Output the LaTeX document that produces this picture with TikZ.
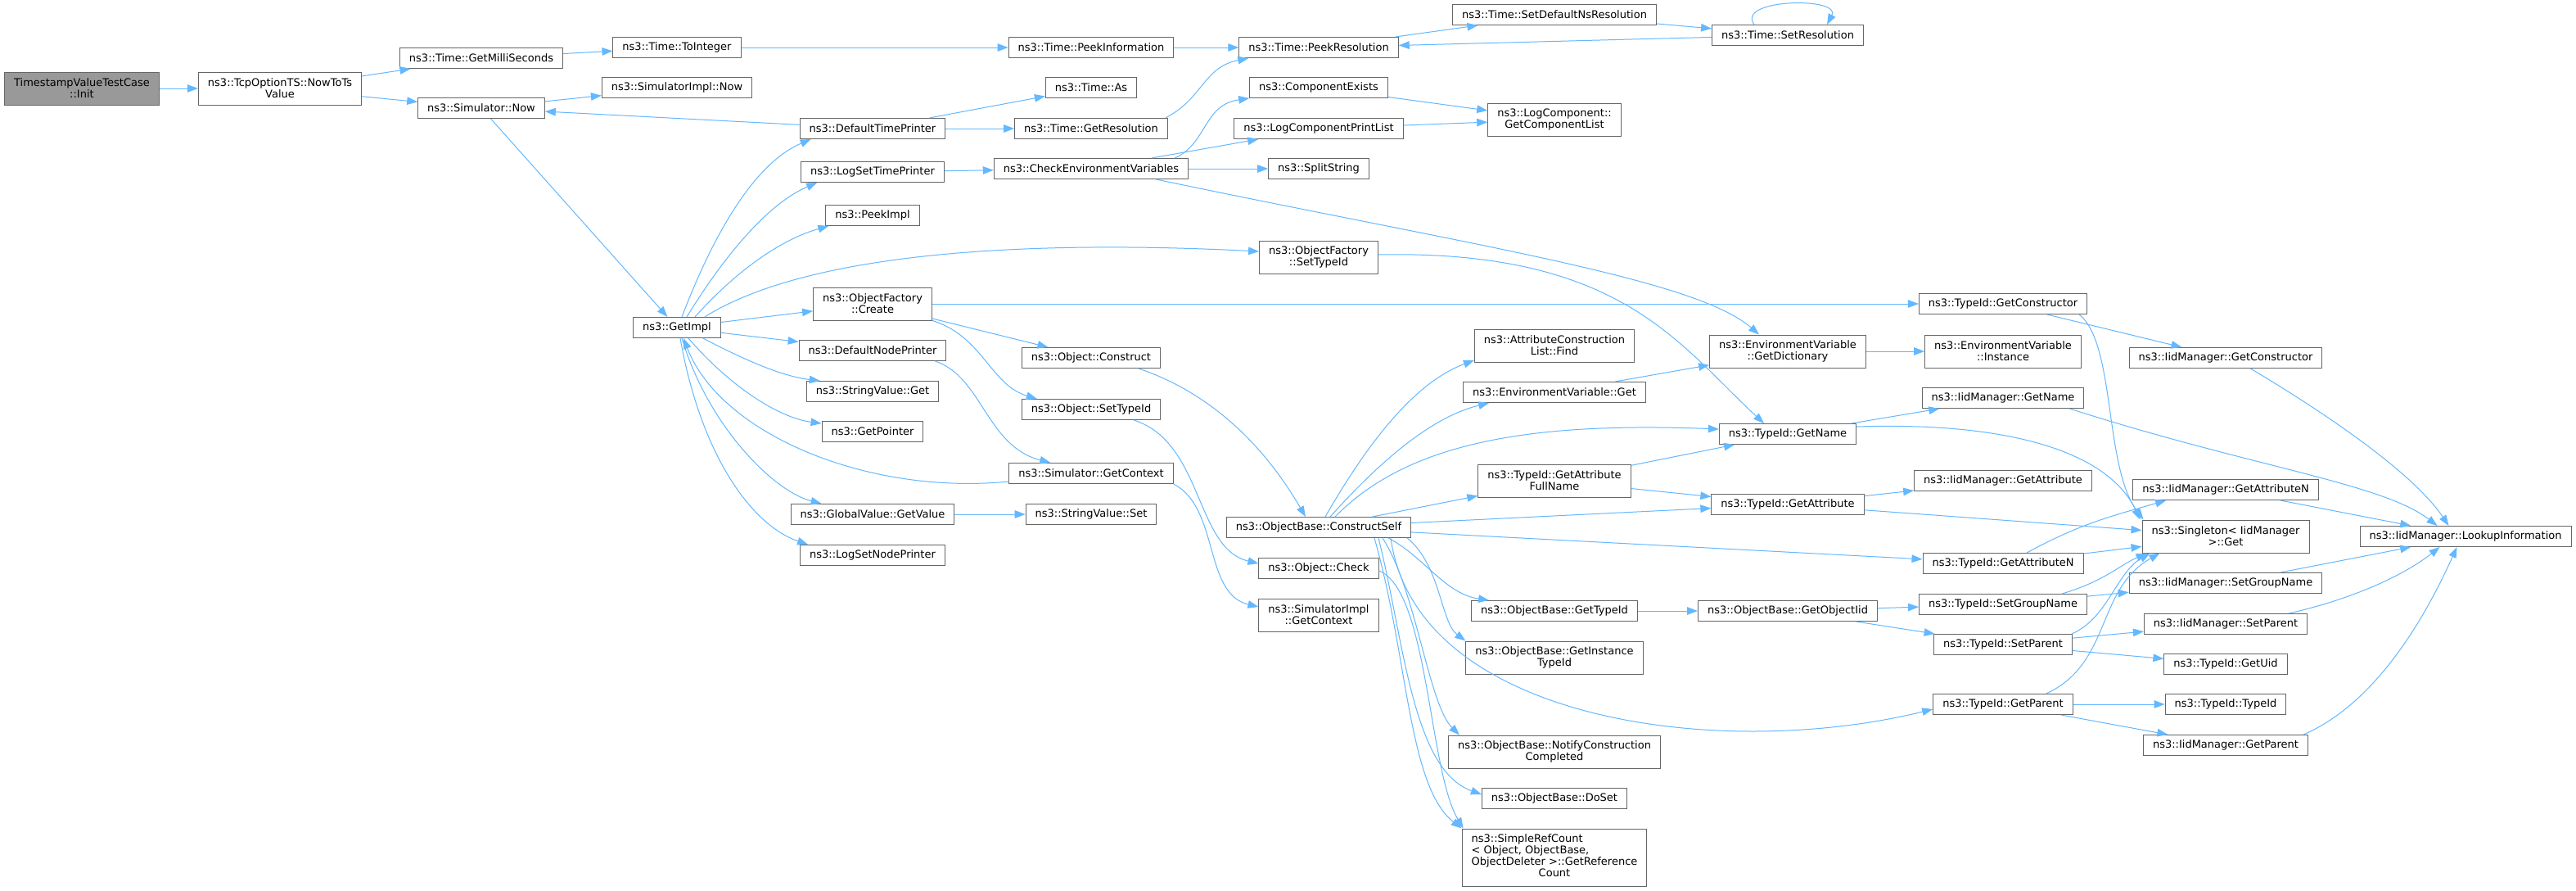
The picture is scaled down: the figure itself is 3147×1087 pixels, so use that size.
\documentclass[tikz,border=0pt]{standalone}
\usepackage{fontspec}
\setmainfont{DejaVu Sans}
\usetikzlibrary{arrows.meta}
\definecolor{edgeblue}{HTML}{63B8FF}
\definecolor{boxgray}{HTML}{666666}
\definecolor{rootgray}{HTML}{999999}

\begin{document}
\begin{tikzpicture}
  [x=1pt,y=-1pt,>={Triangle[length=13pt,width=9.5pt]},
   every node/.style={draw=boxgray,line width=1pt,fill=white,inner xsep=11.5pt,inner ysep=2pt,
     minimum height=25pt,align=center,font=\fontsize{13}{14}\selectfont},
   two/.style={minimum height=40pt},
   edge/.style={->,draw=edgeblue,line width=1pt}]
  \path[use as bounding box,fill=white] (0,0) rectangle (3147,1087);
  \node[two,fill=rootgray] (ninit) at (100,108) {TimestampValueTestCase\\::Init};
  \node[two] (nnowts) at (342,108) {ns3::TcpOptionTS::NowToTs\\Value};
  \node (ngetms) at (588,71) {ns3::Time::GetMilliSeconds};
  \node (nsimnow) at (588,132) {ns3::Simulator::Now};
  \node (ntoint) at (827,58) {ns3::Time::ToInteger};
  \node (nimplnow) at (827,107) {ns3::SimulatorImpl::Now};
  \node (ngetimpl) at (827,400) {ns3::GetImpl};
  \node (ndtp) at (1066,157) {ns3::DefaultTimePrinter};
  \node (nlstp) at (1066,210) {ns3::LogSetTimePrinter};
  \node (npeekimpl) at (1066,263) {ns3::PeekImpl};
  \node[two] (nofcreate) at (1066,371) {ns3::ObjectFactory\\::Create};
  \node (ndnp) at (1066,428) {ns3::DefaultNodePrinter};
  \node (nsvget) at (1066,478) {ns3::StringValue::Get};
  \node (ngetptr) at (1066,527) {ns3::GetPointer};
  \node (ngvget) at (1066,628) {ns3::GlobalValue::GetValue};
  \node (nlsnp) at (1066,678) {ns3::LogSetNodePrinter};
  \node (npeekinfo) at (1333,58) {ns3::Time::PeekInformation};
  \node (ntimeas) at (1333,107) {ns3::Time::As};
  \node (ngetres) at (1333,157) {ns3::Time::GetResolution};
  \node (ncheckenv) at (1333,206) {ns3::CheckEnvironmentVariables};
  \node (nobjcons) at (1333,437) {ns3::Object::Construct};
  \node (nobjstid) at (1333,500) {ns3::Object::SetTypeId};
  \node (nsimctx) at (1333,578) {ns3::Simulator::GetContext};
  \node (nsvset) at (1333,628) {ns3::StringValue::Set};
  \node (npeekres) at (1611,58) {ns3::Time::PeekResolution};
  \node (ncompex) at (1611,107) {ns3::ComponentExists};
  \node (nlcprint) at (1611,157) {ns3::LogComponentPrintList};
  \node (nsplit) at (1611,206) {ns3::SplitString};
  \node[two] (nofset) at (1611,314) {ns3::ObjectFactory\\::SetTypeId};
  \node (ncself) at (1611,644) {ns3::ObjectBase::ConstructSelf};
  \node (nobjcheck) at (1611,694) {ns3::Object::Check};
  \node[two] (nimplctx) at (1611,751) {ns3::SimulatorImpl\\::GetContext};
  \node (nsetdef) at (1899,18) {ns3::Time::SetDefaultNsResolution};
  \node[two] (ncomplist) at (1899,146) {ns3::LogComponent::\\GetComponentList};
  \node[two] (nacfind) at (1899,422) {ns3::AttributeConstruction\\List::Find};
  \node (nenvget) at (1899,479) {ns3::EnvironmentVariable::Get};
  \node[two] (nattrfull) at (1899,587) {ns3::TypeId::GetAttribute\\FullName};
  \node (nobtid) at (1899,746) {ns3::ObjectBase::GetTypeId};
  \node[two] (ninst) at (1899,803) {ns3::ObjectBase::GetInstance\\TypeId};
  \node[two] (nnotify) at (1899,918) {ns3::ObjectBase::NotifyConstruction\\Completed};
  \node (ndoset) at (1899,975) {ns3::ObjectBase::DoSet};
  \node[minimum height=70pt] (nrefcnt) at (1899,1047)
    {\begin{tabular}{@{}l@{}}ns3::SimpleRefCount\\< Object, ObjectBase,\\
     \multicolumn{1}{@{}c@{}}{ObjectDeleter >::GetReference}\\\multicolumn{1}{@{}c@{}}{Count}\end{tabular}};
  \node (nsetres) at (2184,43) {ns3::Time::SetResolution};
  \node[two] (ngetdict) at (2184,429) {ns3::EnvironmentVariable\\::GetDictionary};
  \node (ntidname) at (2184,530) {ns3::TypeId::GetName};
  \node (ntidattr) at (2184,616) {ns3::TypeId::GetAttribute};
  \node (noiid) at (2184,746) {ns3::ObjectBase::GetObjectIid};
  \node (ntidctor) at (2447,371) {ns3::TypeId::GetConstructor};
  \node[two] (nenvinst) at (2447,429) {ns3::EnvironmentVariable\\::Instance};
  \node (niidname) at (2447,486) {ns3::IidManager::GetName};
  \node (niidattr) at (2447,587) {ns3::IidManager::GetAttribute};
  \node (ntidattrn) at (2447,688) {ns3::TypeId::GetAttributeN};
  \node (ntidsetgrp) at (2447,738) {ns3::TypeId::SetGroupName};
  \node (ntidsetpar) at (2447,787) {ns3::TypeId::SetParent};
  \node (ntidpar) at (2447,860) {ns3::TypeId::GetParent};
  \node (niidctor) at (2719,437) {ns3::IidManager::GetConstructor};
  \node (niidattrn) at (2719,598) {ns3::IidManager::GetAttributeN};
  \node[two] (nsingle) at (2719,655) {ns3::Singleton< IidManager\\>::Get};
  \node (niidsetgrp) at (2719,712) {ns3::IidManager::SetGroupName};
  \node (niidsetpar) at (2719,762) {ns3::IidManager::SetParent};
  \node (ntiduid) at (2719,811) {ns3::TypeId::GetUid};
  \node (ntidtid) at (2719,860) {ns3::TypeId::TypeId};
  \node (niidpar) at (2719,910) {ns3::IidManager::GetParent};
  \node (nlookup) at (3012,655) {ns3::IidManager::LookupInformation};
  % straight calls
  \foreach \from/\to in {ninit/nnowts,nnowts/ngetms,nnowts/nsimnow,ngetms/ntoint,nsimnow/nimplnow,
      nsimnow/ngetimpl,ndtp/nsimnow,ntoint/npeekinfo,npeekinfo/npeekres,ndtp/ntimeas,ndtp/ngetres,
      npeekres/nsetdef,nsetdef/nsetres,nsetres/npeekres,nlstp/ncheckenv,ncheckenv/nlcprint,
      ncheckenv/nsplit,ncompex/ncomplist,nlcprint/ncomplist,ngetimpl/nofcreate,ngetimpl/ndnp,
      ngvget/nsvset,nofcreate/ntidctor,nofcreate/nobjcons,ngetdict/nenvinst,ntidctor/niidctor,
      ncself/nattrfull,ncself/ntidattr,ncself/ntidattrn,nenvget/ngetdict,nattrfull/ntidname,
      nattrfull/ntidattr,ntidname/niidname,ntidattr/niidattr,ntidattr/nsingle,nobtid/noiid,
      noiid/ntidsetgrp,noiid/ntidsetpar,ntidattrn/nsingle,niidattrn/nlookup,ntidsetgrp/niidsetgrp,
      niidsetgrp/nlookup,ntidsetpar/niidsetpar,ntidsetpar/ntiduid,ntidpar/ntidtid,ntidpar/niidpar}
    \draw[edge] (\from) -- (\to);
  % curved calls
  \draw[edge] ([xshift=-41]nsetres.north) .. controls (2120,-2) and (2250,-4) .. ([xshift=48]nsetres.north);
  \draw[edge] ([xshift=-3]ngetres.north east) .. controls (1470,120) and (1470,82) .. ([xshift=12]npeekres.south west);
  \draw[edge] ([xshift=-17]ncheckenv.north east) .. controls (1475,175) and (1470,128) .. (ncompex.south west);
  \draw[edge] ([xshift=-40]ncheckenv.south east) .. controls (1800,300) and (2070,340) .. ([xshift=-35]ngetdict.north);
  \draw[edge] ([xshift=6]ngetimpl.north) .. controls (870,290) and (920,200) .. ([xshift=14]ndtp.south west);
  \draw[edge] ([xshift=12]ngetimpl.north) .. controls (880,320) and (935,250) .. ([xshift=20]nlstp.south west);
  \draw[edge] ([xshift=22]ngetimpl.north) .. controls (900,330) and (955,292) .. ([xshift=4]npeekimpl.south west);
  \draw[edge] ([xshift=-20]ngetimpl.north east) .. controls (1000,300) and (1300,295) .. ([yshift=7]nofset.west);
  \draw[edge] ([xshift=-22]ngetimpl.south east) .. controls (920,445) and (960,460) .. ([xshift=17]nsvget.north west);
  \draw[edge] ([xshift=14]ngetimpl.south) .. controls (890,470) and (950,510) .. ([yshift=10]ngetptr.west);
  \draw[edge] ([yshift=3]nsimctx.south west) .. controls (1060,605) and (880,530) .. ([xshift=8]ngetimpl.south);
  \draw[edge] ([xshift=6]ngetimpl.south) .. controls (865,520) and (945,600) .. ([xshift=38]ngvget.north west);
  \draw[edge] ([xshift=4]ngetimpl.south) .. controls (855,550) and (915,640) .. ([xshift=10]nlsnp.north west);
  \draw[edge] ([xshift=-14]ndnp.south east) .. controls (1200,460) and (1205,545) .. ([xshift=51]nsimctx.north west);
  \draw[edge] (nofcreate.south east) .. controls (1200,410) and (1210,470) .. ([xshift=19]nobjstid.north west);
  \draw[edge] ([xshift=-27]nobjcons.south east) .. controls (1480,480) and (1545,545) .. ([xshift=97]ncself.north west);
  \draw[edge] ([xshift=-33]nobjstid.south east) .. controls (1470,540) and (1460,670) .. ([yshift=6]nobjcheck.west);
  \draw[edge] (nsimctx.south east) .. controls (1490,620) and (1470,725) .. ([yshift=10]nimplctx.west);
  \draw[edge] ([yshift=3]nofset.east) .. controls (1980,305) and (2050,420) .. ([xshift=-29]ntidname.north);
  \draw[edge] ([xshift=-10]ntidctor.south east) .. controls (2585,420) and (2570,570) .. ([xshift=2]nsingle.north west);
  \draw[edge] ([xshift=-88]niidctor.south east) .. controls (2850,510) and (2950,580) .. ([xshift=109]nlookup.north west);
  \draw[edge] ([xshift=8]ncself.north) .. controls (1660,560) and (1720,470) .. ([yshift=-18]nacfind.west);
  \draw[edge] ([xshift=14]ncself.north) .. controls (1680,570) and (1745,510) .. ([xshift=32]nenvget.south west);
  \draw[edge] ([xshift=20]ncself.north) .. controls (1720,540) and (1870,515) .. ([yshift=6]ntidname.west);
  \draw[edge] ([xshift=-28]ncself.south east) .. controls (1740,680) and (1765,725) .. ([xshift=22]nobtid.north west);
  \draw[edge] ([xshift=-5]ncself.south east) .. controls (1760,690) and (1760,760) .. (ninst.north west);
  \draw[edge] ([xshift=88]ncself.south) .. controls (1730,880) and (2100,930) .. ([yshift=-6]ntidpar.west);
  \draw[edge] ([xshift=78]ncself.south) .. controls (1730,720) and (1745,860) .. ([xshift=14]nnotify.north west);
  \draw[edge] ([xshift=73]ncself.south) .. controls (1715,780) and (1725,940) .. ([yshift=5]ndoset.west);
  \draw[edge] ([xshift=68]ncself.south) .. controls (1720,800) and (1720,960) .. (nrefcnt.north west);
  \draw[edge] ([yshift=-3]nobjcheck.east) .. controls (1745,720) and (1745,940) .. ([xshift=2]nrefcnt.north west);
  \draw[edge] ([yshift=9]ntidname.east) .. controls (2450,515) and (2575,550) .. ([xshift=-2]nsingle.north west);
  \draw[edge] ([xshift=-18]niidname.south east) .. controls (2750,570) and (2910,590) .. ([xshift=95]nlookup.north west);
  \draw[edge] ([xshift=29]ntidattrn.north) .. controls (2540,640) and (2580,630) .. ([xshift=41]niidattrn.south west);
  \draw[edge] ([xshift=-31]ntidsetgrp.north east) .. controls (2570,710) and (2590,690) .. ([xshift=6]nsingle.south west);
  \draw[edge] ([xshift=-1]ntidsetpar.north east) .. controls (2575,755) and (2585,700) .. ([xshift=10]nsingle.south west);
  \draw[edge] ([xshift=-23]niidsetpar.north east) .. controls (2880,730) and (2940,700) .. ([xshift=98]nlookup.south west);
  \draw[edge] ([xshift=-33]ntidpar.north east) .. controls (2580,810) and (2560,720) .. ([xshift=22]nsingle.south west);
  \draw[edge] ([xshift=-6]niidpar.north east) .. controls (2900,860) and (2960,760) .. ([xshift=119]nlookup.south west);
\end{tikzpicture}
\end{document}
